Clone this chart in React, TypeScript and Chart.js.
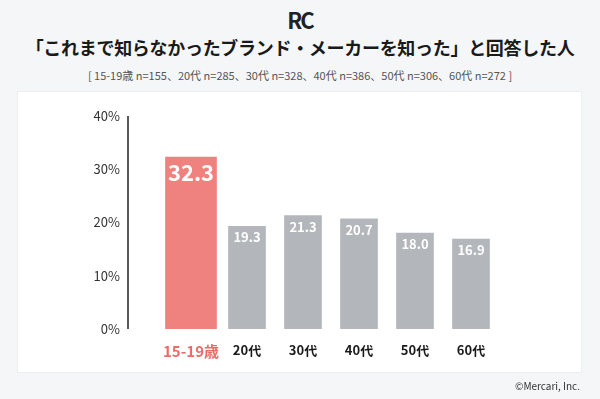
import React, { useEffect, useRef } from "react";
import { Chart, registerables } from "chart.js";

Chart.register(...registerables);

const categories = ["15-19歳", "20代", "30代", "40代", "50代", "60代"];
const values = [32.3, 19.3, 21.3, 20.7, 18.0, 16.9];
const yTicks = [0, 10, 20, 30, 40];
const titleText = "「これまで知らなかったブランド・メーカーを知った」と回答した人";
const subtitleText = "[ 15-19歳 n=155、20代 n=285、30代 n=328、40代 n=386、50代 n=306、60代 n=272 ]";

const RED = "#ef817e";
const GRAY = "#b3b7bb";
const FONT = '"Noto Sans CJK JP", "Noto Sans", sans-serif';

const valueLabelPlugin = {
  id: "valueLabels",
  afterDatasetsDraw(chart: any) {
    const ctx = chart.ctx;
    ctx.save();
    ctx.fillStyle = "#ffffff";
    ctx.textAlign = "center";
    ctx.textBaseline = "middle";
    chart.data.datasets.forEach((ds: any, di: number) => {
      const meta = chart.getDatasetMeta(di);
      meta.data.forEach((el: any, i: number) => {
        const v = ds.data[i];
        if (v == null) return;
        if (i === 0) {
          ctx.font = `bold 22px ${FONT}`;
          ctx.fillText(v.toFixed(1), el.x, el.y + 16);
        } else {
          ctx.font = `bold 13px ${FONT}`;
          ctx.fillText(v.toFixed(1), el.x, el.y + 11);
        }
      });
    });
    ctx.restore();
  },
};

const axisLinePlugin = {
  id: "axisLine",
  afterDraw(chart: any) {
    const { ctx, chartArea } = chart;
    const x = chartArea.left - 35;
    ctx.save();
    ctx.strokeStyle = "#222";
    ctx.lineWidth = 1.5;
    ctx.beginPath();
    ctx.moveTo(x, chartArea.top);
    ctx.lineTo(x, chartArea.bottom);
    ctx.stroke();
    ctx.restore();
  },
};

export default function App() {
  const ref = useRef<HTMLCanvasElement>(null);
  useEffect(() => {
    if (!ref.current) return;
    const chart = new Chart(ref.current, {
      type: "bar",
      data: {
        labels: categories,
        datasets: [
          {
            data: values.map((v, i) => (i === 0 ? v : null)),
            backgroundColor: RED,
            barThickness: 51,
            grouped: false,
          } as any,
          {
            data: values.map((v, i) => (i === 0 ? null : v)),
            backgroundColor: GRAY,
            barThickness: 37,
            grouped: false,
          } as any,
        ],
      },
      plugins: [valueLabelPlugin, axisLinePlugin],
      options: {
        responsive: false,
        animation: false,
        events: [],
        layout: { padding: { top: 116, bottom: 30, left: 83, right: 101 } },
        plugins: { legend: { display: false }, tooltip: { enabled: false }, title: { display: false } },
        scales: {
          x: {
            offset: true,
            grid: { display: false, drawTicks: false },
            border: { display: false },
            afterFit: (s: any) => { s.height = 40; },
            ticks: {
              padding: 13,
              maxRotation: 0,
              minRotation: 0,
              autoSkip: false,
              color: (c: any) => (c.index === 0 ? "#ea6b68" : "#1a1a1a"),
              font: (c: any) => ({ family: FONT, size: c.index === 0 ? 15 : 13, weight: "bold" }),
            },
          },
          y: {
            min: 0,
            max: 40,
            afterFit: (s: any) => { s.width = 80; },
            afterBuildTicks: (s: any) => { s.ticks = yTicks.map((v) => ({ value: v })); },
            grid: { display: false, drawTicks: false },
            border: { display: false },
            ticks: {
              padding: 43,
              color: "#333",
              font: { family: FONT, size: 13 },
              callback: (v: any) => `${v}%`,
            },
          },
        },
      },
    });
    return () => chart.destroy();
  }, []);

  return (
    <div
      style={{
        position: "fixed",
        left: 0,
        top: 0,
        width: 600,
        height: 399,
        background: "#f5f6f8",
        fontFamily: FONT,
        overflow: "hidden",
      }}
    >
      <div style={{ position: "absolute", top: 7, left: 0, width: 600, textAlign: "center", fontSize: 22, lineHeight: "24px", fontWeight: 700, color: "#222", letterSpacing: -2 }}>
        RC
      </div>
      <div style={{ position: "absolute", top: 37, left: 0, width: 600, textAlign: "center", fontSize: 18, lineHeight: "20px", fontWeight: 700, color: "#1a1a1a", letterSpacing: -0.3 }}>
        {titleText}
      </div>
      <div style={{ position: "absolute", top: 68, left: 0, width: 600, textAlign: "center", fontSize: 11, lineHeight: "14px", color: "#555" }}>
        {subtitleText}
      </div>
      <div style={{ position: "absolute", left: 17, top: 91, width: 563, height: 280, background: "#fff", border: "1px solid #eceef1" }} />
      <canvas ref={ref} width={600} height={399} style={{ position: "absolute", left: 0, top: 0, width: 600, height: 399 }} />
      <div style={{ position: "absolute", right: 20, top: 380, fontSize: 10, lineHeight: "12px", color: "#333" }}>
        ©Mercari, Inc.
      </div>
    </div>
  );
}
